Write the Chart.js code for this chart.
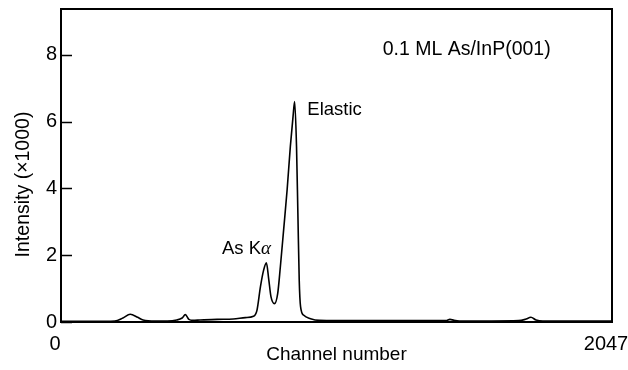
<!DOCTYPE html>
<html><head><meta charset="utf-8">
<script src="https://cdn.jsdelivr.net/npm/chart.js@4/dist/chart.umd.min.js"></script>
<style>html,body{margin:0;padding:0;background:#fff;}canvas{display:block;}</style>
</head><body>
<canvas id="c" width="628" height="370"></canvas>
<script>
// ---- data ----
const channels = [0, 120, 200, 230, 257, 285, 305, 350, 395, 430,
  450, 462, 475, 490, 517, 580, 640, 685, 715, 728,
  741, 753, 763, 772, 780, 793, 805, 815, 827, 840,
  852, 862, 868, 875, 880, 885, 890, 902, 927, 960,
  1100, 1300, 1430, 1445, 1460, 1480, 1600, 1700, 1725, 1746,
  1765, 1790, 1900, 2047];
const intensity = [0.02, 0.02, 0.03, 0.12, 0.23, 0.14, 0.06, 0.03, 0.03, 0.06,
  0.12, 0.22, 0.08, 0.05, 0.06, 0.08, 0.09, 0.13, 0.17, 0.35,
  1.06, 1.56, 1.77, 1.26, 0.76, 0.55, 0.85, 1.66, 2.75, 3.95,
  5.25, 6.15, 6.6, 5.25, 3.26, 1.26, 0.46, 0.2, 0.1, 0.05,
  0.04, 0.04, 0.04, 0.08, 0.05, 0.03, 0.03, 0.04, 0.08, 0.14,
  0.06, 0.03, 0.03, 0.03];
const xTickValues = [0, 2047];
const yTickValues = [0, 2, 4, 6, 8];
const xTitle = 'Channel number';
const yTitle = 'Intensity (\u00d71000)';
const sampleLabel = '0.1 ML As/InP(001)';
const elasticLabel = 'Elastic';
const asLabelMain = 'As K';
const asLabelGreek = '\u03b1';

// ---- style ----
const FONT = '"Liberation Sans", Arial, sans-serif';

const frame = {
  id: 'frame',
  afterDatasetsDraw(chart) {
    const {ctx, chartArea: a, scales: {x, y}} = chart;
    ctx.save();
    ctx.strokeStyle = '#000';
    ctx.lineWidth = 2;
    ctx.strokeRect(a.left, a.top, a.right - a.left, a.bottom - a.top);
    ctx.lineWidth = 1.5;
    ctx.beginPath();
    yTickValues.forEach(v => {
      const py = Math.round(y.getPixelForValue(v)) + 0.5;
      ctx.moveTo(a.left, py); ctx.lineTo(a.left + 11, py);
    });
    ctx.stroke();
    ctx.fillStyle = '#000';
    ctx.textBaseline = 'middle';
    ctx.textAlign = 'left';
    ctx.font = '19.5px ' + FONT;
    ctx.fillText(sampleLabel, x.getPixelForValue(1195), y.getPixelForValue(8.15));
    ctx.font = '18.5px ' + FONT;
    ctx.fillText(elasticLabel, x.getPixelForValue(915), y.getPixelForValue(6.35));
    const ax = x.getPixelForValue(598), ay = y.getPixelForValue(2.2);
    ctx.fillText(asLabelMain, ax, ay);
    const w = ctx.measureText(asLabelMain).width;
    ctx.font = 'italic 19px "Liberation Serif", serif';
    ctx.fillText(asLabelGreek, ax + w, ay);
    // y title
    ctx.font = '19.5px ' + FONT;
    ctx.textAlign = 'center';
    ctx.translate(24, (a.top + a.bottom) / 2 + 19);
    ctx.rotate(-Math.PI / 2);
    ctx.fillText(yTitle, 0, 0);
    ctx.restore();
  }
};

new Chart(document.getElementById('c'), {
  type: 'line',
  data: {
    datasets: [{
      data: channels.map((c, i) => ({x: c, y: intensity[i]})),
      borderColor: '#000',
      borderWidth: 1.6,
      pointRadius: 0,
      fill: false,
      cubicInterpolationMode: 'monotone'
    }]
  },
  options: {
    responsive: false,
    animation: false,
    events: [],
    layout: {padding: {left: 0, top: 9, right: 16, bottom: 0}},
    plugins: {legend: {display: false}, tooltip: {enabled: false}},
    scales: {
      x: {
        type: 'linear', min: 0, max: 2047,
        afterBuildTicks: s => { s.ticks = xTickValues.map(v => ({value: v})); },
        afterFit: s => { s.height = 48; s.paddingLeft = 0; s.paddingRight = 0; },
        grid: {display: false, drawTicks: false},
        border: {display: false},
        ticks: {color: '#000', font: {family: FONT, size: 20}, padding: 10, labelOffset: -6, maxRotation: 0, autoSkip: false,
          callback: v => String(v)},
        title: {display: true, text: xTitle, color: '#000', font: {family: FONT, size: 19, lineHeight: 1.2}, padding: {top: 0, bottom: 4}}
      },
      y: {
        min: 0, max: 9.37,
        afterBuildTicks: s => { s.ticks = yTickValues.map(v => ({value: v})); },
        afterFit: s => { s.width = 61; s.paddingTop = 0; s.paddingBottom = 0; },
        grid: {display: false, drawTicks: false},
        border: {display: false},
        ticks: {color: '#000', font: {family: FONT, size: 20}, padding: 4, callback: v => String(v)}
      }
    }
  },
  plugins: [frame]
});
</script>
</body></html>
